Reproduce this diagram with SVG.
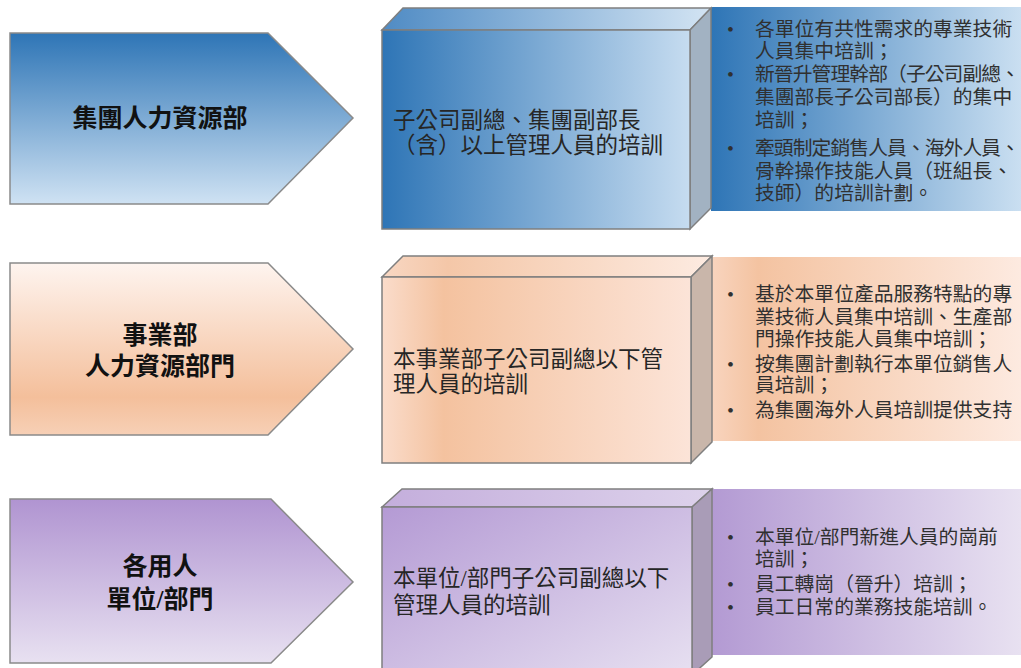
<svg xmlns="http://www.w3.org/2000/svg" width="1021" height="668" viewBox="0 0 1021 668">
<style>
.pent{stroke:#8A8A8A;stroke-width:1.5}
.box{stroke:#7F7F7F;stroke-width:1.5;stroke-linejoin:miter}
.lbl{font-family:"Liberation Serif","Noto Sans CJK TC",serif;font-size:25px;font-weight:bold;fill:#111;text-anchor:middle}
.btx{font-family:"Liberation Serif","Noto Sans CJK TC",serif;font-size:22.5px;fill:#262626}
.ptx{font-family:"Liberation Serif","Noto Sans CJK TC",serif;font-size:19.8px;fill:#303030}
</style>
<defs>
<linearGradient id="p1" x1="0" y1="0" x2="0" y2="1"><stop offset="0" stop-color="#2E75B6"/><stop offset="1" stop-color="#CFE2F3"/></linearGradient>
<linearGradient id="f1" x1="0" y1="0" x2="1" y2="0"><stop offset="0" stop-color="#2E75B6"/><stop offset="1" stop-color="#C6DCF0"/></linearGradient>
<linearGradient id="t1" x1="0" y1="0" x2="1" y2="0"><stop offset="0" stop-color="#4F8BC4"/><stop offset="1" stop-color="#D3E4F3"/></linearGradient>
<linearGradient id="q1" x1="0" y1="0" x2="1" y2="0"><stop offset="0" stop-color="#2E75B6"/><stop offset="1" stop-color="#CADFF1"/></linearGradient>
<linearGradient id="p2" x1="0" y1="0" x2="0" y2="1"><stop offset="0" stop-color="#FEF4EF"/><stop offset="0.78" stop-color="#F4BF9B"/><stop offset="1" stop-color="#F7D0B6"/></linearGradient>
<linearGradient id="f2" x1="0" y1="0" x2="1" y2="0"><stop offset="0" stop-color="#FADCCB"/><stop offset="0.2" stop-color="#F4C29F"/><stop offset="1" stop-color="#FCE4D8"/></linearGradient>
<linearGradient id="t2" x1="0" y1="0" x2="1" y2="0"><stop offset="0" stop-color="#F8D7C3"/><stop offset="0.2" stop-color="#F4C7A8"/><stop offset="1" stop-color="#FDEBE1"/></linearGradient>
<linearGradient id="q2" x1="0" y1="0" x2="1" y2="0"><stop offset="0" stop-color="#F8D4BE"/><stop offset="0.15" stop-color="#F4C3A1"/><stop offset="1" stop-color="#FDEAE0"/></linearGradient>
<linearGradient id="p3" x1="0" y1="0" x2="0" y2="1"><stop offset="0" stop-color="#B094D1"/><stop offset="1" stop-color="#E8E1F1"/></linearGradient>
<linearGradient id="f3" x1="0" y1="0" x2="1" y2="1"><stop offset="0" stop-color="#B49AD4"/><stop offset="1" stop-color="#E7E0F1"/></linearGradient>
<linearGradient id="t3" x1="0" y1="0" x2="1" y2="0"><stop offset="0" stop-color="#C4AEDC"/><stop offset="1" stop-color="#DDD2EB"/></linearGradient>
<linearGradient id="q3" x1="0" y1="0" x2="1" y2="0"><stop offset="0" stop-color="#B39AD3"/><stop offset="1" stop-color="#E8E1F1"/></linearGradient>
</defs>
<rect width="1021" height="668" fill="#FFFFFF"/>

<g id="node-group-hr">
<polygon class="pent" fill="url(#p1)" points="10,33 268,33 353,118 268,204 10,204"/>
<text class="lbl" x="160" y="127">集團人力資源部</text>
</g>
<g id="panel-group-hr">
<rect x="711" y="7" width="310" height="204" fill="url(#q1)"/>
<text class="ptx" x="727" y="36">•</text>
<text class="ptx" x="755" y="36">各單位有共性需求的專業技術</text>
<text class="ptx" x="755" y="58">人員集中培訓；</text>
<text class="ptx" x="727" y="81">•</text>
<text class="ptx" x="755" y="81" textLength="265">新晉升管理幹部（子公司副總、</text>
<text class="ptx" x="755" y="104">集團部長子公司部長）的集中</text>
<text class="ptx" x="755" y="127">培訓；</text>
<text class="ptx" x="727" y="155">•</text>
<text class="ptx" x="755" y="155" textLength="265">牽頭制定銷售人員、海外人員、</text>
<text class="ptx" x="755" y="178">骨幹操作技能人員（班組長、</text>
<text class="ptx" x="755" y="200">技師）的培訓計劃。</text>
</g>
<g id="box-group-hr">
<polygon class="box" fill="url(#t1)" points="382,30 403,8 711,8 690,30"/>
<polygon class="box" fill="#A2B2C2" points="690,30 711,8 711,208 690,229"/>
<rect class="box" x="382" y="30" width="308" height="199" fill="url(#f1)"/>
<text class="btx" x="393" y="128">子公司副總、集團副部長</text>
<text class="btx" x="393" y="153">（含）以上管理人員的培訓</text>
</g>

<g id="node-division-hr">
<polygon class="pent" fill="url(#p2)" points="10,263 268,263 353,349 268,435 10,435"/>
<text class="lbl" x="160" y="344">事業部</text>
<text class="lbl" x="160" y="375">人力資源部門</text>
</g>
<g id="panel-division-hr">
<rect x="712" y="257" width="309" height="184" fill="url(#q2)"/>
<text class="ptx" x="727" y="301">•</text>
<text class="ptx" x="755" y="301">基於本單位產品服務特點的專</text>
<text class="ptx" x="755" y="324">業技術人員集中培訓、生產部</text>
<text class="ptx" x="755" y="346">門操作技能人員集中培訓；</text>
<text class="ptx" x="727" y="371">•</text>
<text class="ptx" x="755" y="371">按集團計劃執行本單位銷售人</text>
<text class="ptx" x="755" y="392">員培訓；</text>
<text class="ptx" x="727" y="417">•</text>
<text class="ptx" x="755" y="417">為集團海外人員培訓提供支持</text>
</g>
<g id="box-division-hr">
<polygon class="box" fill="url(#t2)" points="382,277 403,256 712,256 691,277"/>
<polygon class="box" fill="#C9B6AA" points="691,277 712,256 712,442 691,463"/>
<rect class="box" x="382" y="277" width="309" height="186" fill="url(#f2)"/>
<text class="btx" x="393" y="367">本事業部子公司副總以下管</text>
<text class="btx" x="393" y="392">理人員的培訓</text>
</g>

<g id="node-units">
<polygon class="pent" fill="url(#p3)" points="10,499 271,499 353,582 271,663 10,663"/>
<text class="lbl" x="160" y="575">各用人</text>
<text class="lbl" x="160" y="608">單位/部門</text>
</g>
<g id="panel-units">
<rect x="712" y="489" width="309" height="166" fill="url(#q3)"/>
<text class="ptx" x="727" y="544">•</text>
<text class="ptx" x="755" y="544">本單位/部門新進人員的崗前</text>
<text class="ptx" x="755" y="566">培訓；</text>
<text class="ptx" x="727" y="591">•</text>
<text class="ptx" x="755" y="591">員工轉崗（晉升）培訓；</text>
<text class="ptx" x="727" y="614">•</text>
<text class="ptx" x="755" y="614">員工日常的業務技能培訓。</text>
</g>
<g id="box-units">
<polygon class="box" fill="url(#t3)" points="382,507 402,489 712,489 692,507"/>
<polygon class="box" fill="#A99CB7" points="692,507 712,489 712,657 692,675"/>
<rect class="box" x="382" y="507" width="310" height="168" fill="url(#f3)"/>
<text class="btx" x="393" y="586">本單位/部門子公司副總以下</text>
<text class="btx" x="393" y="613">管理人員的培訓</text>
</g>
</svg>
